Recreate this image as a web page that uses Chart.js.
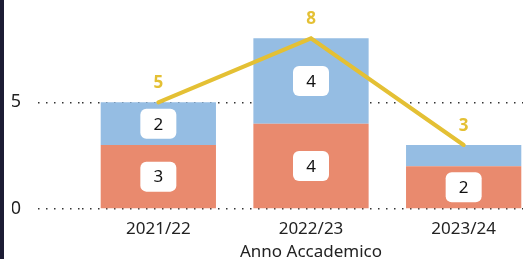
<!DOCTYPE html>
<html>
<head>
<meta charset="utf-8">
<script src="https://cdn.jsdelivr.net/npm/chart.js@4/dist/chart.umd.min.js"></script>
<style>
  html, body { margin: 0; padding: 0; background: #fff; overflow: hidden; }
  #wrap { position: relative; width: 560px; height: 259px; overflow: hidden; }
  #strip { position: absolute; left: 0; top: 0; width: 4px; height: 259px; background: #1c1c34; z-index: 2; }
</style>
</head>
<body>
<div id="wrap">
  <div id="strip"></div>
  <canvas id="chart" width="560" height="262"></canvas>
</div>
<script>
// data
const years = ['2021/22', '2022/23', '2023/24'];
const bottomSeries = [3, 4, 2];   // orange
const topSeries = [2, 4, 1];      // blue
const totals = [5, 8, 3];         // yellow line
const yTicks = [0, 5];

const ORANGE = 'rgb(233, 138, 110)';
const BLUE = 'rgb(149, 189, 227)';
const YELLOW = 'rgb(228, 192, 52)';
const FONT = "'Noto Sans', 'Open Sans', sans-serif";

// white boxes on bars + yellow totals above the line
const labelPlugin = {
  id: 'labels',
  afterDatasetsDraw(chart) {
    const ctx = chart.ctx;
    ctx.save();
    chart.data.datasets.forEach(function(ds, di) {
      const meta = chart.getDatasetMeta(di);
      meta.data.forEach(function(el, i) {
        const v = ds.data[i];
        if (ds.type === 'line') {
          ctx.fillStyle = YELLOW;
          ctx.font = 'bold 17px ' + FONT;
          ctx.textAlign = 'center';
          ctx.textBaseline = 'middle';
          ctx.fillText(String(v), el.x, el.y - 19);
          return;
        }
        const h = Math.abs(el.base - el.y);
        if (h < 32) return;
        const cy = (el.y + el.base) / 2;
        const w = 36, bh = 30;
        ctx.fillStyle = '#fff';
        ctx.beginPath();
        ctx.roundRect(el.x - w / 2, cy - bh / 2, w, bh, 6);
        ctx.fill();
        ctx.fillStyle = '#111';
        ctx.font = '17px ' + FONT;
        ctx.textAlign = 'center';
        ctx.textBaseline = 'middle';
        ctx.fillText(String(v), el.x, cy + 1);
      });
    });
    ctx.restore();
  }
};

const ctx = document.getElementById('chart').getContext('2d');
const chart = new Chart(ctx, {
  data: {
    labels: years,
    datasets: [
      {
        type: 'line',
        data: totals,
        borderColor: YELLOW,
        borderWidth: 4,
        pointRadius: 0,
        borderCapStyle: 'round',
        stack: 'line',
        order: 0
      },
      {
        type: 'bar',
        data: bottomSeries,
        backgroundColor: ORANGE,
        borderWidth: 0,
        stack: 'bars',
        categoryPercentage: 1,
        barPercentage: 0.755,
        order: 1
      },
      {
        type: 'bar',
        data: topSeries,
        backgroundColor: BLUE,
        borderWidth: 0,
        stack: 'bars',
        categoryPercentage: 1,
        barPercentage: 0.755,
        order: 1
      }
    ]
  },
  options: {
    responsive: false,
    animation: false,
    layout: { padding: { left: 12, right: 20, top: 17, bottom: 0 } },
    plugins: { legend: { display: false }, tooltip: { enabled: false } },
    scales: {
      x: {
        stacked: true,
        grid: { display: false },
        border: { display: false },
        ticks: { color: '#222', font: { family: FONT, size: 17 }, padding: 2 },
        title: {
          display: true,
          text: 'Anno Accademico',
          color: '#222',
          font: { family: FONT, size: 17 },
          padding: { top: 0, bottom: 0 }
        },
        afterFit(scale) { scale.height = 53; }
      },
      y: {
        stacked: true,
        min: 0,
        max: 9,
        border: { display: false, dash: [1.5, 6.5] },
        grid: {
          color: '#333',
          lineWidth: 1.5,
          tickColor: '#333',
          tickWidth: 1.5,
          tickBorderDash: [1.5, 6.5],
          tickLength: 44,
          drawTicks: true
        },
        afterBuildTicks(scale) {
          scale.ticks = yTicks.map(function(v) { return { value: v }; });
        },
        ticks: { color: '#222', font: { family: FONT, size: 18 }, padding: 17 },
        afterFit(scale) {
          scale.width = 70;
          scale.paddingTop = 0;
          scale.paddingBottom = 0;
        }
      }
    }
  },
  plugins: [labelPlugin]
});
</script>
</body>
</html>
